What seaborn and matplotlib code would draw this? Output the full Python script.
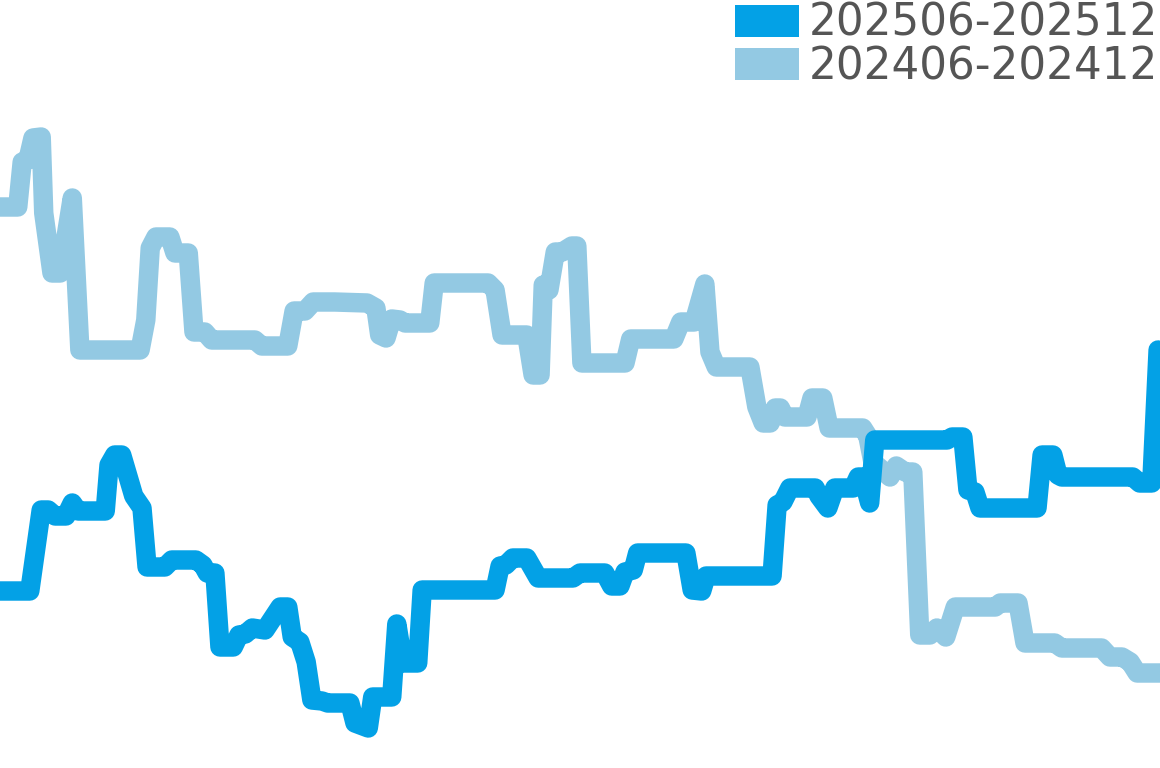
import pandas as pd
import matplotlib
matplotlib.use("Agg")
import matplotlib.pyplot as plt
from matplotlib.patches import Patch
import seaborn as sns

# day offsets within each six-month window and the index values
days_2025 = [
    0.0, 4.7, 6.5, 7.6, 8.7, 10.4, 11.4, 12.3, 16.6, 17.2,
    18.1, 19.2, 20.5, 21.1, 22.4, 23.2, 26.0, 27.1, 30.9, 32.0,
    32.7, 33.9, 34.7, 36.8, 37.7, 38.7, 39.8, 41.8, 44.2, 45.4,
    46.1, 47.3, 48.3, 49.2, 50.8, 51.7, 55.2, 56.0, 58.1, 58.8,
    61.8, 62.6, 63.6, 65.9, 66.6, 78.1, 78.9, 79.8, 80.9, 83.1,
    84.9, 90.4, 91.5, 95.4, 96.5, 97.8, 98.6, 99.9, 100.6, 108.2,
    109.2, 110.7, 111.4, 121.8, 122.6, 123.5, 124.6, 128.6, 129.2, 130.6,
    131.7, 134.6, 135.4, 136.1, 137.2, 138.0, 149.4, 150.2, 151.9, 152.7,
    153.8, 154.6, 163.6, 164.4, 166.1, 166.9, 167.5, 178.7, 179.8, 181.7,
    182.7,
]
values_2025 = [
    35.4, 35.4, 51.6, 51.6, 50.4, 50.4, 53.0, 51.4, 51.4, 60.6,
    62.6, 62.6, 57.0, 54.4, 52.0, 40.2, 40.2, 41.6, 41.6, 40.6,
    39.0, 39.0, 24.2, 24.2, 26.6, 26.8, 28.0, 27.6, 32.2, 32.2,
    26.2, 25.2, 21.2, 13.6, 13.4, 13.0, 13.0, 9.0, 8.0, 14.2,
    14.2, 28.8, 21.0, 21.0, 35.6, 35.6, 40.4, 40.6, 42.0, 42.0,
    38.0, 38.0, 39.0, 39.0, 36.4, 36.4, 39.2, 39.6, 43.0, 43.0,
    35.6, 35.4, 38.4, 38.4, 52.6, 53.2, 56.0, 56.0, 54.4, 52.0,
    56.0, 56.0, 58.2, 58.2, 53.0, 65.6, 65.6, 66.2, 66.2, 55.6,
    55.2, 52.0, 52.0, 62.6, 62.6, 58.6, 58.2, 58.2, 57.0, 57.0,
    83.6,
]

days_2024 = [
    0.0, 2.8, 3.5, 4.4, 5.2, 6.5, 6.9, 8.2, 9.5, 11.4,
    12.6, 22.1, 23.0, 23.7, 24.6, 26.8, 27.6, 29.7, 30.6, 32.3,
    33.4, 40.2, 41.3, 45.4, 46.4, 48.1, 49.4, 52.8, 57.9, 59.3,
    59.9, 60.9, 61.8, 63.1, 63.9, 67.8, 68.5, 77.0, 78.1, 79.2,
    83.1, 84.1, 85.2, 85.7, 86.6, 87.6, 88.7, 90.2, 91.0, 91.8,
    98.6, 99.5, 106.3, 107.4, 109.5, 111.2, 112.0, 113.0, 118.3, 119.4,
    120.4, 121.5, 122.3, 123.1, 123.8, 127.3, 128.1, 129.8, 130.8, 136.1,
    136.9, 137.7, 140.4, 141.4, 142.8, 144.0, 145.1, 146.7, 147.8, 149.2,
    150.7, 157.0, 157.8, 160.6, 161.7, 166.4, 167.5, 173.8, 175.1, 177.0,
    178.3, 179.4, 183.0,
]
values_2024 = [
    112.2, 112.2, 121.2, 121.6, 126.0, 126.2, 111.0, 99.0, 99.0, 114.0,
    83.6, 83.6, 89.6, 104.0, 106.2, 106.2, 103.0, 103.0, 87.2, 87.2,
    85.6, 85.6, 84.4, 84.4, 91.4, 91.4, 93.2, 93.2, 93.0, 92.0,
    86.6, 86.0, 89.8, 89.6, 89.0, 89.0, 97.0, 97.0, 95.6, 86.6,
    86.6, 78.6, 78.6, 96.6, 95.6, 103.2, 103.2, 104.4, 104.4, 81.0,
    81.0, 85.8, 85.8, 89.2, 89.2, 96.8, 83.2, 80.2, 80.2, 72.2,
    69.0, 69.0, 72.0, 72.0, 70.2, 70.2, 74.0, 74.0, 68.0, 68.0,
    66.4, 61.2, 58.2, 60.4, 59.2, 59.2, 26.6, 26.6, 28.0, 26.2,
    32.2, 32.2, 33.0, 33.0, 25.0, 25.0, 24.0, 24.0, 22.2, 22.2,
    21.2, 19.0, 19.0,
]

labels = ["202506-202512", "202406-202412"]
colors = ["#03A1E6", "#93C9E3"]

df_new = pd.DataFrame({"day": days_2025, "value": values_2025})
df_old = pd.DataFrame({"day": days_2024, "value": values_2024})

fig = plt.figure(figsize=(11.6, 7.68), dpi=100)
ax = fig.add_axes([0, 0, 1, 1])

# older window first so the current one sits on top where they cross
line_kw = dict(linewidth=14, solid_capstyle="round", solid_joinstyle="round",
               sort=False, estimator=None, ax=ax)
sns.lineplot(data=df_old, x="day", y="value", color=colors[1], **line_kw)
sns.lineplot(data=df_new, x="day", y="value", color=colors[0], **line_kw)

ax.set_xlim(0, 183)
ax.set_ylim(0, 153.6)
ax.axis("off")

handles = [Patch(facecolor=c, edgecolor="none") for c in colors]
leg = ax.legend(handles, labels, loc="upper right", bbox_to_anchor=(1.0, 1.0),
                frameon=False, fontsize=31.4, borderpad=0.04, borderaxespad=0,
                handlelength=1.47, handleheight=0.75, handletextpad=0.23,
                labelspacing=0.02)
for t in leg.get_texts():
    t.set_color("#555555")

fig.savefig("out.png", dpi=100)
